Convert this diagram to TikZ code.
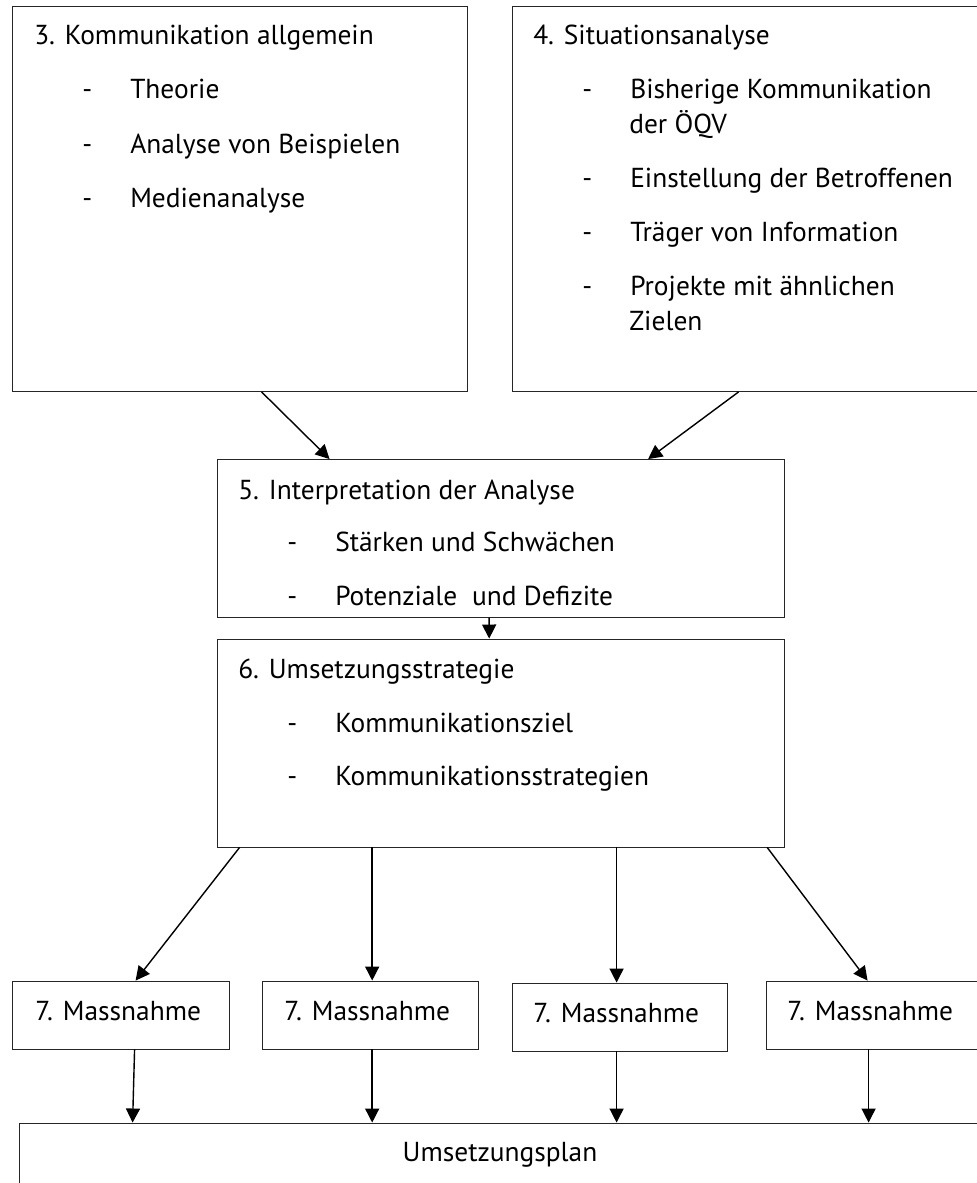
\documentclass[tikz,border=0pt]{standalone}
\usepackage{fontspec}
\setmainfont{PT Sans}
\usetikzlibrary{arrows.meta, fit, calc}

\tikzset{
  box/.style={draw=black!85, line width=0.6pt, inner sep=0pt},
  txt/.style={anchor=base west, inner sep=0pt, font=\fontsize{19.5}{23}\selectfont},
  arr/.style={-{Triangle[length=10pt,width=10pt]}, line width=1pt},
}
\newcommand{\dashitem}[1]{\makebox[1.2cm][l]{-}#1}

\begin{document}
\begin{tikzpicture}[x=0.025cm, y=-0.025cm]
    \useasboundingbox (0,0) rectangle (977,1183);  % Fixes the page size
    \clip (0,0) rectangle (977,1183);  % Cuts off the boxes at the right edge
    % the boxes
    \node[box, fit={(12.7,6.7) (467,391.5)}] (komm) {};
    \node[box, fit={(512,6.7) (995,391.5)}] (situ) {};
    \node[box, fit={(217.5,459.5) (784,617.3)}] (interp) {};
    \node[box, fit={(217,639) (784,847)}] (strat) {};
    \node[box, fit={(12.7,981) (229,1049)}] (mass1) {};
    \node[box, fit={(262,981) (478.5,1049)}] (mass2) {};
    \node[box, fit={(512,983) (727,1051)}] (mass3) {};
    \node[box, fit={(766,981) (995,1049)}] (mass4) {};
    \node[box, fit={(19,1123) (995,1230)}] (plan) {};
    % texts of box 3
    \node[txt] (kommT) at (34,45) {3. Kommunikation allgemein};
    \node[txt] (kommA) at (82,98) {\dashitem{Theorie}};
    \node[txt] (kommB) at (82,153) {\dashitem{Analyse von Beispielen}};
    \node[txt] (kommC) at (82,207) {\dashitem{Medienanalyse}};
    % texts of box 4
    \node[txt] (situT) at (533,45) {4. Situationsanalyse};
    \node[txt] (situA) at (582,98) {\dashitem{Bisherige Kommunikation}};
    \node[txt] (situA2) at (629,133) {der ÖQV};
    \node[txt] (situB) at (582,187) {\dashitem{Einstellung der Betroffenen}};
    \node[txt] (situC) at (582,241) {\dashitem{Träger von Information}};
    \node[txt] (situD) at (582,295) {\dashitem{Projekte mit ähnlichen}};
    \node[txt] (situD2) at (629,330) {Zielen};
    % texts of box 5 and 6
    \node[txt] (interpT) at (238,499) {5. Interpretation der Analyse};
    \node[txt] (interpA) at (287,551) {\dashitem{Stärken und Schwächen}};
    \node[txt] (interpB) at (287,605) {\dashitem{Potenziale~ und Defizite}};
    \node[txt] (stratT) at (238,678) {6. Umsetzungsstrategie};
    \node[txt] (stratA) at (287,732) {\dashitem{Kommunikationsziel}};
    \node[txt] (stratB) at (287,785) {\dashitem{Kommunikationsstrategien}};
    % texts of the bottom boxes
    \node[txt] (mass1T) at (35,1020) {7. Massnahme};
    \node[txt] (mass2T) at (284,1020) {7. Massnahme};
    \node[txt] (mass3T) at (533,1022) {7. Massnahme};
    \node[txt] (mass4T) at (787,1020) {7. Massnahme};
    \node[txt, anchor=base] (planT) at (500,1161) {Umsetzungsplan};
    % arrows
    \draw[arr] ($(komm.south west)+(249.3,0)$) -- ($(interp.north west)+(112.5,0)$);
    \draw[arr] ($(situ.south west)+(227,0)$) -- ($(interp.north west)+(431,0)$);
    \draw[arr] ($(interp.south west)+(272,0)$) -- ($(strat.north west)+(272.6,0)$);
    \draw[arr] ($(strat.south west)+(23,0)$) -- ($(mass1.north west)+(123.3,0)$);
    \draw[arr] ($(strat.south west)+(155.6,0)$) -- ($(mass2.north west)+(110.6,0)$);
    \draw[arr] ($(strat.south west)+(400,0)$) -- ($(mass3.north west)+(105,0)$);
    \draw[arr] ($(strat.south west)+(550.6,0)$) -- ($(mass4.north west)+(102,0)$);
    \draw[arr] ($(mass1.south west)+(122.3,0)$) -- ($(plan.north west)+(114,0)$);
    \draw[arr] ($(mass2.south west)+(110.6,0)$) -- ($(plan.north west)+(353.6,0)$);
    \draw[arr] ($(mass3.south west)+(105,0)$) -- ($(plan.north west)+(598,0)$);
    \draw[arr] ($(mass4.south west)+(103,0)$) -- ($(plan.north west)+(850,0)$);
\end{tikzpicture}
\end{document}
